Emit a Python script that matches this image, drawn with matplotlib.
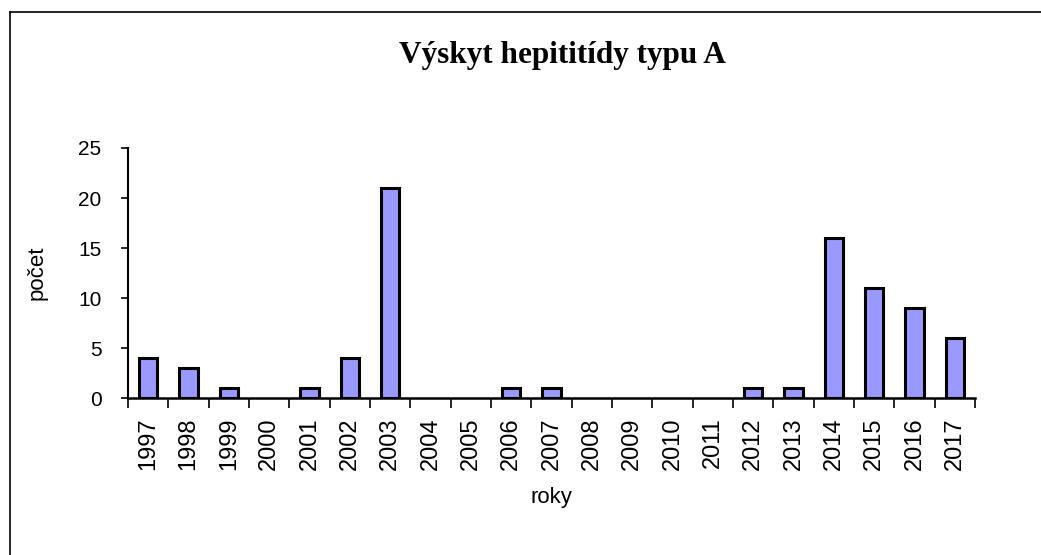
import matplotlib
matplotlib.use("Agg")
import matplotlib.pyplot as plt
from matplotlib.lines import Line2D

years = [str(y) for y in range(1997, 2018)]
counts = [4, 3, 1, 0, 1, 4, 21, 0, 0, 1, 1, 0, 0, 0, 0, 1, 1, 16, 11, 9, 6]
title = "Výskyt hepititídy typu A"
xlabel = "roky"
ylabel = "počet"
yticks = [0, 5, 10, 15, 20, 25]

W, H = 1041, 555
fig = plt.figure(figsize=(W / 100, H / 100), dpi=100)
fig.patch.set_facecolor("white")

# outer frame (top and left visible)
fig.add_artist(Line2D([10 / W, 1.0], [1 - 12 / H, 1 - 12 / H], color="black", lw=1.2, transform=fig.transFigure))
fig.add_artist(Line2D([10 / W, 10 / W], [1 - 12 / H, 0.0], color="black", lw=1.2, transform=fig.transFigure))

ax = fig.add_axes([128 / W, 1 - 398 / H, (975 - 128) / W, (398 - 148) / H])
n = len(years)
x = list(range(n))
lws = [2.2 if c > 0 else 0 for c in counts]
ax.bar(x, counts, width=0.45, color="#9999FF", edgecolor="black", linewidth=lws, zorder=3)
ax.set_xlim(-0.5, n - 0.5)
ax.set_ylim(0, 25)

ax.spines["top"].set_visible(False)
ax.spines["right"].set_visible(False)
ax.spines["left"].set_linewidth(1.5)
ax.spines["bottom"].set_linewidth(1.8)
ax.spines["bottom"].set_zorder(4)

ax.set_yticks(yticks)
ax.set_yticklabels([str(v) for v in yticks], fontsize=15, family="Liberation Sans")
ax.tick_params(axis="y", length=5, width=1.2, pad=14, direction="out")

ax.set_xticks(x)
ax.set_xticklabels(years, rotation=90, fontsize=17, family="Liberation Sans")
ax.tick_params(axis="x", which="major", length=0, pad=14)
ax.set_xticks([i - 0.5 for i in range(n + 1)], minor=True)
ax.tick_params(axis="x", which="minor", length=7, width=1.2, direction="out")

ax.set_xlabel(xlabel, fontsize=16, family="Liberation Sans", labelpad=12)
ax.set_ylabel(ylabel, fontsize=16, family="Liberation Sans", labelpad=22)

fig.text(562 / W, 1 - 56 / H, title, ha="center", va="center", fontsize=22.5,
         family="Liberation Serif", fontweight="heavy")

fig.savefig("out.png", dpi=100, facecolor="white")
